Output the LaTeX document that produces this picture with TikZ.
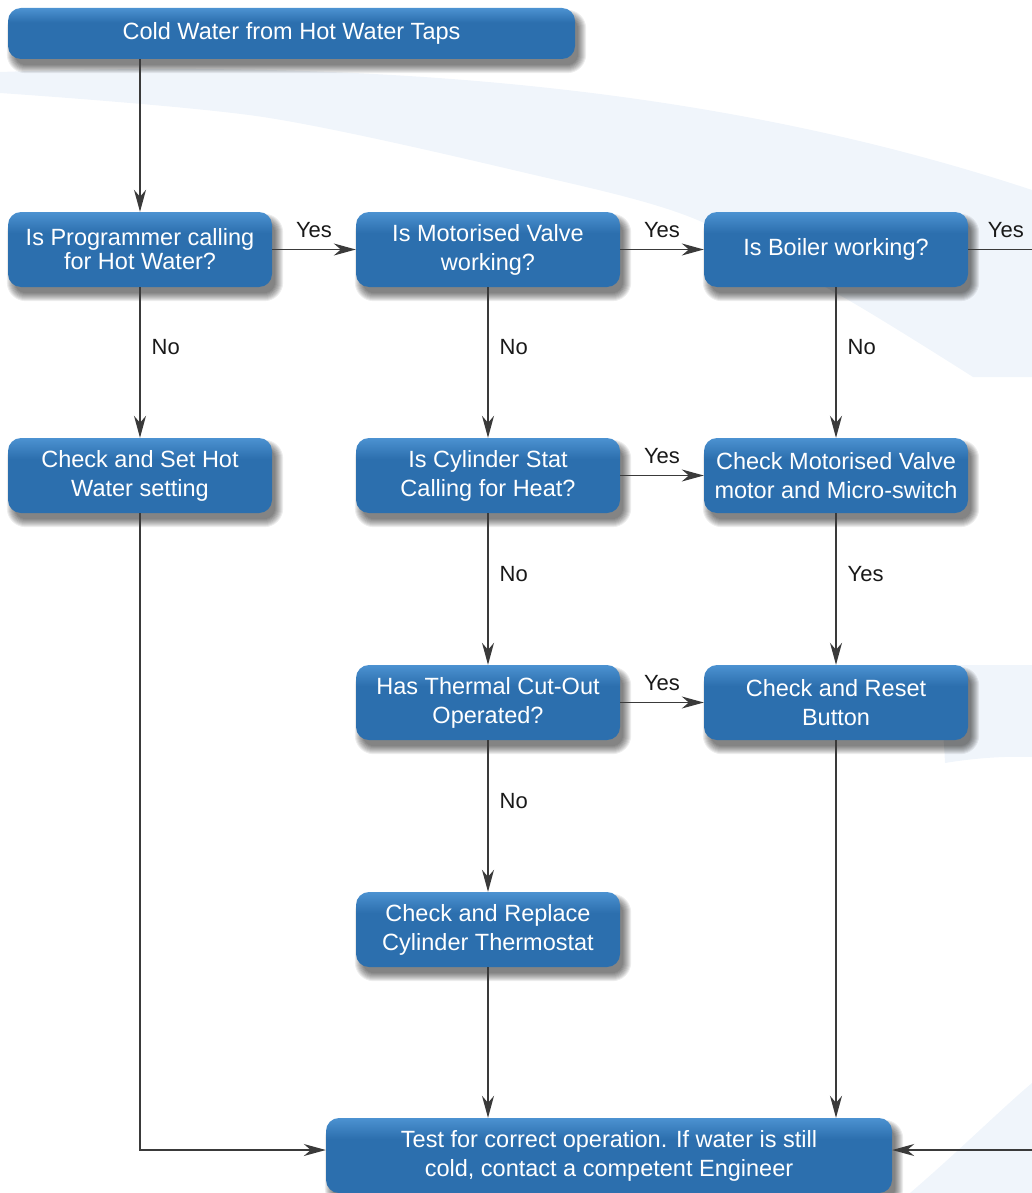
\documentclass[tikz,border=0pt]{standalone}
\usepackage{fontspec}
\setmainfont{Liberation Sans}
\usetikzlibrary{arrows.meta}
\definecolor{boxdark}{HTML}{2C6FAE}
\definecolor{boxlight}{HTML}{4C92D1}
\definecolor{bgblue}{HTML}{F0F5FB}
\definecolor{linecol}{HTML}{3A3A3A}
\pgfdeclareverticalshading{boxshade}{100bp}{color(0bp)=(boxdark); color(25bp)=(boxdark); color(61bp)=(boxdark); color(75bp)=(boxlight); color(100bp)=(boxlight)}
\pgfdeclarelayer{shadowlayer}
\pgfsetlayers{shadowlayer,main}
\newcommand{\softshadow}[1]{%
  \begin{pgfonlayer}{shadowlayer}
  \foreach \g in {-2,...,6}{%
    \fill[black, opacity=0.07, rounded corners={(13+\g)*1pt}]
      ([xshift={(5-\g)*1pt}, yshift={(-8-\g)*1pt}]#1.south west) rectangle
      ([xshift={(5+\g)*1pt}, yshift={(-8+\g)*1pt}]#1.north east);
  }
  \end{pgfonlayer}}
\begin{document}
\begin{tikzpicture}[x=1pt,y=-1pt,
  box/.style={rounded corners=13pt, shade, shading=boxshade, text=white, align=center,
    inner sep=0pt, minimum width=264pt, minimum height=75pt,
    font=\fontsize{23.5}{29}\selectfont},
  conn/.style={draw=linecol, line width=1.3pt, -{Stealth[length=22pt,width=12pt,inset=7pt]}},
  plain/.style={draw=linecol, line width=1.3pt},
  lbl/.style={font=\fontsize{22}{26}\selectfont, text=black!90, inner sep=0pt}]
\useasboundingbox (0,0) rectangle (1032,1193);
% background swooshes
\begin{pgfonlayer}{shadowlayer}
\fill[bgblue] (0,72) .. controls (350,60) and (700,80) .. (1032,190)
  -- (1032,377) -- (973,377)
  -- plot[smooth] coordinates {(973,377) (843,297) (690,217) (526,173) (263,117) (0,93)} -- cycle;
\fill[bgblue] (940,665) -- (1032,665) -- (1032,757) .. controls (1005,756) and (975,758) .. (945,763) -- cycle;
\fill[bgblue] (910,1193) .. controls (960,1150) and (1000,1110) .. (1032,1083) -- (1032,1193) -- cycle;
\end{pgfonlayer}
% boxes
\node[box, minimum width=567pt, minimum height=51pt] (top) at (291.5,33.5) {Cold Water from Hot Water Taps};
\node[box, font=\fontsize{23.5}{24}\selectfont] (A) at (140,249.5) {Is Programmer calling\\for Hot Water?};
\node[box] (B) at (488,249.5) {Is Motorised Valve\\working?};
\node[box] (C) at (836,249.5) {Is Boiler working?};
\node[box] (D) at (140,475.5) {Check and Set Hot\\Water setting};
\node[box] (E) at (488,475.5) {Is Cylinder Stat\\Calling for Heat?};
\node[box] (F) at (836,475.5) {Check Motorised Valve\\motor and Micro-switch};
\node[box] (G) at (488,702.5) {Has Thermal Cut-Out\\Operated?};
\node[box] (H) at (836,702.5) {Check and Reset\\Button};
\node[box] (I) at (488,929.5) {Check and Replace\\Cylinder Thermostat};
\node[box, minimum width=566pt] (bot) at (609,1155.5) {Test for correct operation. If water is still\\cold, contact a competent Engineer};
\foreach \n in {top,A,B,C,D,E,F,G,H,I,bot}{\softshadow{\n}}
\coordinate (cR) at (1032,249.5);
\coordinate (cB) at (1032,1150);
% connectors
\draw[conn] (A |- top.south) -- (A.north);
\draw[conn] (A) -- node[lbl, above=11pt] {Yes} (B);
\draw[conn] (B) -- node[lbl, above=11pt] {Yes} (C);
\draw[plain] (C) -- node[lbl, above=11pt, pos=0.59] {Yes} (cR);
\draw[conn] (A) -- node[lbl, pos=0.4, right=11pt] {No} (D);
\draw[conn] (B) -- node[lbl, pos=0.4, right=11pt] {No} (E);
\draw[conn] (C) -- node[lbl, pos=0.4, right=11pt] {No} (F);
\draw[conn] (E) -- node[lbl, above=11pt] {Yes} (F);
\draw[conn] (E) -- node[lbl, pos=0.4, right=11pt] {No} (G);
\draw[conn] (F) -- node[lbl, pos=0.4, right=11pt] {Yes} (H);
\draw[conn] (G) -- node[lbl, above=11pt] {Yes} (H);
\draw[conn] (G) -- node[lbl, pos=0.4, right=11pt] {No} (I);
\draw[conn] (I) -- (I |- bot.north);
\draw[conn] (H) -- (H |- bot.north);
\draw[conn] (D.south) |- ([yshift=5.5pt]bot.west);
\draw[conn] (cB) -- (cB -| bot.east);
\end{tikzpicture}
\end{document}
